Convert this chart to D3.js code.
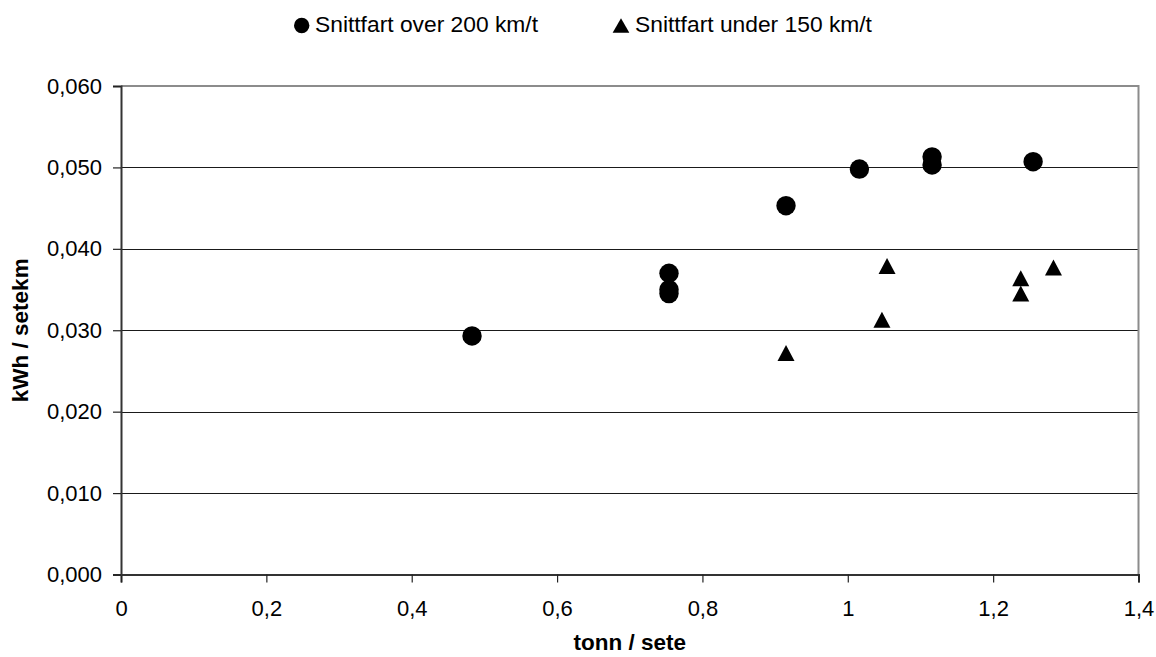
<!DOCTYPE html>
<html>
<head>
<meta charset="utf-8">
<script src="https://cdn.jsdelivr.net/npm/d3@7"></script>
<style>
  body { margin: 0; background: #fff; }
  svg { display: block; font-family: "Liberation Sans", Arial, sans-serif; }
</style>
</head>
<body>
<div id="chart"></div>
<script>
// data
var seriesNames = ["Snittfart over 200 km/t", "Snittfart under 150 km/t"];
var fastX = [0.483, 0.754, 0.754, 0.754, 0.915, 1.016, 1.116, 1.116, 1.255];
var fastY = [0.0293, 0.0370, 0.0350, 0.0345, 0.0453, 0.0498, 0.0513, 0.0503, 0.0507];
var slowX = [0.915, 1.047, 1.054, 1.238, 1.238, 1.283];
var slowY = [0.0272, 0.0313, 0.0379, 0.0364, 0.0345, 0.0377];
var xTicks = [0, 0.2, 0.4, 0.6, 0.8, 1, 1.2, 1.4];
var yTicks = [0, 0.01, 0.02, 0.03, 0.04, 0.05, 0.06];
var xTitle = "tonn / sete";
var yTitle = "kWh / setekm";

var width = 1156, height = 657;
var plot = { left: 121, right: 1138.5, top: 86, bottom: 574.5 };

var svg = d3.select("#chart").append("svg")
  .attr("width", width)
  .attr("height", height);

var x = d3.scaleLinear().domain([0, 1.4]).range([plot.left, plot.right]);
var y = d3.scaleLinear().domain([0, 0.06]).range([plot.bottom, plot.top]);

var comma = function(d) { return String(d).replace(".", ","); };

// horizontal gridlines
svg.append("g")
  .selectAll("line")
  .data(yTicks.filter(function(d) { return d > 0 && d < 0.06; }))
  .enter().append("line")
    .attr("x1", plot.left).attr("x2", plot.right)
    .attr("y1", function(d) { return Math.round(y(d)) + 0.5; })
    .attr("y2", function(d) { return Math.round(y(d)) + 0.5; })
    .attr("stroke", "#1a1a1a")
    .attr("stroke-width", 1);

// top and right frame
svg.append("path")
  .attr("d", "M" + plot.left + "," + y(0.06) + "H" + x(1.4) + "V" + y(0))
  .attr("fill", "none")
  .attr("stroke", "#8c8c8c")
  .attr("stroke-width", 2);

var xAxis = d3.axisBottom(x)
  .tickValues(xTicks)
  .tickSize(8)
  .tickPadding(18)
  .tickFormat(comma);

var yAxis = d3.axisLeft(y)
  .tickValues(yTicks)
  .tickSize(8)
  .tickPadding(11)
  .tickFormat(function(d) { return d3.format(".3f")(d).replace(".", ","); });

var gx = svg.append("g")
  .attr("transform", "translate(0," + plot.bottom + ")")
  .call(xAxis);
var gy = svg.append("g")
  .attr("transform", "translate(" + plot.left + ",0)")
  .call(yAxis);

[gx, gy].forEach(function(g) {
  g.select(".domain").attr("stroke", "#333").attr("stroke-width", 2);
  g.selectAll(".tick line").attr("stroke", "#222").attr("stroke-width", 1.2);
  g.selectAll(".tick text")
    .attr("fill", "#000")
    .style("font-size", "22px")
    .style("font-family", "'Liberation Sans', Arial, sans-serif");
});

// axis titles
svg.append("text")
  .attr("x", (plot.left + plot.right) / 2)
  .attr("y", 650)
  .attr("text-anchor", "middle")
  .style("font-size", "22.5px")
  .style("font-weight", "bold")
  .text(xTitle);

svg.append("text")
  .attr("transform", "translate(28," + ((plot.top + plot.bottom) / 2) + ") rotate(-90)")
  .attr("text-anchor", "middle")
  .style("font-size", "22.5px")
  .style("font-weight", "bold")
  .text(yTitle);

// markers
var triangle = function(w, h) {
  return "M0," + (-h / 2) + "L" + (w / 2) + "," + (h / 2) + "L" + (-w / 2) + "," + (h / 2) + "Z";
};

svg.append("g")
  .selectAll("circle")
  .data(fastX.map(function(d, i) { return [d, fastY[i]]; }))
  .enter().append("circle")
    .attr("cx", function(d) { return x(d[0]); })
    .attr("cy", function(d) { return y(d[1]); })
    .attr("r", 9.7)
    .attr("fill", "#000");

svg.append("g")
  .selectAll("path")
  .data(slowX.map(function(d, i) { return [d, slowY[i]]; }))
  .enter().append("path")
    .attr("transform", function(d) { return "translate(" + x(d[0]) + "," + y(d[1]) + ")"; })
    .attr("d", triangle(17, 16))
    .attr("fill", "#000");

// legend
var legend = svg.append("g").style("font-size", "22.8px");

legend.append("circle")
  .attr("cx", 301.7).attr("cy", 25.5).attr("r", 7.7)
  .attr("fill", "#000");
legend.append("text")
  .attr("x", 315).attr("y", 32)
  .text(seriesNames[0]);

legend.append("path")
  .attr("transform", "translate(621,25.5)")
  .attr("d", triangle(16.7, 14.5))
  .attr("fill", "#000");
legend.append("text")
  .attr("x", 635).attr("y", 32)
  .text(seriesNames[1]);
</script>
</body>
</html>
